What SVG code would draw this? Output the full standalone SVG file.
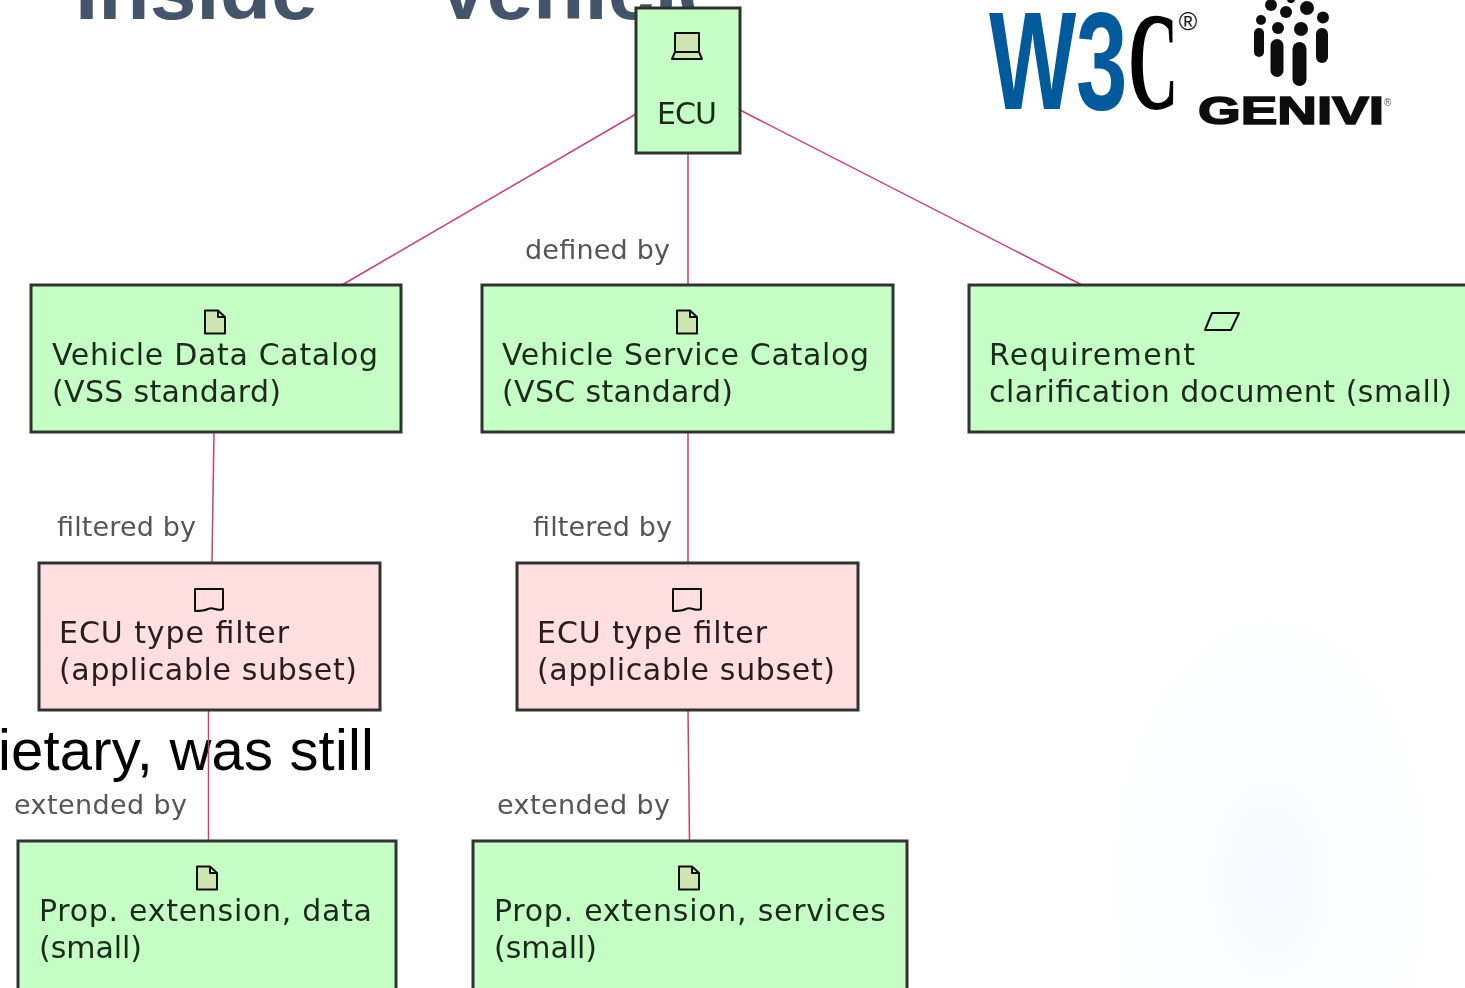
<svg xmlns="http://www.w3.org/2000/svg" width="1465" height="988" viewBox="0 0 1465 988">
<style>
.box{stroke:#333;stroke-width:3}
.g{fill:#c6ffc6}
.p{fill:#ffdfdf}
.t{font-family:"DejaVu Sans",sans-serif;font-size:30px;fill:#1c2a1c}
.tp{fill:#2a1c1c}
.l{font-family:"DejaVu Sans",sans-serif;font-size:27px;fill:#555}
.c{stroke:#cc3f70;stroke-width:1.5;fill:none}
.i{stroke:#111;stroke-width:2;stroke-linejoin:round}
.ig{fill:#cfe5b4}
.in{fill:none}
</style>
<defs>
<filter id="b2" x="-5%" y="-5%" width="110%" height="110%"><feGaussianBlur stdDeviation="0.6"/></filter>
<radialGradient id="bg"><stop offset="0" stop-color="#e9f0fb" stop-opacity="0.45"/><stop offset="1" stop-color="#fff" stop-opacity="0"/></radialGradient>
<path id="doc" d="M-10 -11.500H3L10 -5V11.500H-10Z M3 -11.500V-5H10"/>
<path id="flt" d="M-14 -11H14V9C8 12 4 6 -1 9C-5 11 -9 11 -14 11Z"/>
</defs>
<rect width="1465" height="988" fill="#fff"/>
<ellipse cx="1270" cy="880" rx="230" ry="380" fill="url(#bg)"/>
<text x="75" y="19" font-family="'Liberation Sans',sans-serif" font-weight="700" font-size="84" fill="#44546a">Inside</text>
<text x="435" y="19" font-family="'Liberation Sans',sans-serif" font-weight="700" font-size="84" fill="#44546a">Vehicle</text>
<text x="-2" y="770" font-family="'Liberation Sans',sans-serif" font-size="58" fill="#000" textLength="376">ietary, was still</text>
<g id="logo-w3c">
<text transform="translate(989 109) scale(0.66 1)" font-family="'Liberation Sans',sans-serif" font-weight="700" font-size="140" fill="#005a9c">W</text>
<text transform="translate(1076 109) scale(0.66 1)" font-family="'Liberation Sans',sans-serif" font-weight="700" font-size="140" fill="#005a9c">3</text>
<text transform="translate(1128 109) scale(0.5 1)" font-family="'Liberation Serif',serif" font-weight="700" font-size="140" fill="#000">C</text>
<text x="1188" y="30" text-anchor="middle" font-family="'Liberation Sans',sans-serif" font-size="25" fill="#111">®</text>
</g>
<g id="logo-genivi" filter="url(#b2)">
<g fill="#111">
<circle cx="1271" cy="5" r="6"/><circle cx="1286" cy="12" r="6"/><circle cx="1307" cy="8" r="7"/><circle cx="1291" cy="-1" r="4"/><circle cx="1261" cy="20" r="5"/><circle cx="1323" cy="17.500" r="6"/><circle cx="1278" cy="28" r="6"/><circle cx="1301" cy="29" r="7"/>
<rect x="1254" y="28" width="10" height="29" rx="5"/><rect x="1270.500" y="39" width="13" height="38" rx="6.500"/><rect x="1292.500" y="42" width="14" height="44" rx="7"/><rect x="1316" y="28" width="12" height="35" rx="6"/>
</g>
<text x="1198" y="124" font-family="'Liberation Sans',sans-serif" font-weight="700" font-size="38" fill="#111" stroke="#111" stroke-width="1.500" textLength="186" lengthAdjust="spacingAndGlyphs">GENIVI</text>
<text x="1384" y="106" font-family="'Liberation Sans',sans-serif" font-size="10" fill="#555">®</text>
</g>
<g id="connectors" filter="url(#b2)">
<path class="c" d="M636 114L342 285"/>
<path class="c" d="M688 153V285"/>
<path class="c" d="M740 110L1082 285"/>
<path class="c" d="M214 432L212 563"/>
<path class="c" d="M688 432V563"/>
<path class="c" d="M208.500 710V841"/>
<path class="c" d="M688 710L689.500 841"/>
</g>
<g id="edge-labels" filter="url(#b2)">
<text class="l" x="525" y="259" textLength="145">defined by</text>
<text class="l" x="57" y="536" textLength="139">filtered by</text>
<text class="l" x="533" y="536" textLength="139">filtered by</text>
<text class="l" x="14" y="814" textLength="173">extended by</text>
<text class="l" x="497" y="814" textLength="173">extended by</text>
</g>
<g id="ecu" filter="url(#b2)">
<rect class="box g" x="636" y="8" width="104" height="145"/>
<path class="i ig" d="M675 33H699V52H675Z M675 52L672 59H702L699 52"/>
<text class="t" x="657" y="124" textLength="60">ECU</text>
</g>
<g id="vehicle-data-catalog" filter="url(#b2)">
<rect class="box g" x="31" y="285" width="370" height="147"/>
<use href="#doc" class="i ig" x="215" y="322"/>
<text class="t" x="52" y="365" textLength="326">Vehicle Data Catalog</text>
<text class="t" x="52" y="402" textLength="229">(VSS standard)</text>
</g>
<g id="vehicle-service-catalog" filter="url(#b2)">
<rect class="box g" x="482" y="285" width="411" height="147"/>
<use href="#doc" class="i ig" x="687" y="322"/>
<text class="t" x="502" y="365" textLength="367">Vehicle Service Catalog</text>
<text class="t" x="502" y="402" textLength="231">(VSC standard)</text>
</g>
<g id="requirement" filter="url(#b2)">
<rect class="box g" x="969" y="285" width="510" height="147"/>
<path class="i in" d="M1212 313H1239L1231 330H1205Z"/>
<text class="t" x="989" y="365" textLength="206">Requirement</text>
<text class="t" x="989" y="402" textLength="463">clarification document (small)</text>
</g>
<g id="ecu-filter-1" filter="url(#b2)">
<rect class="box p" x="39" y="563" width="341" height="147"/>
<use href="#flt" class="i in" x="209" y="600"/>
<text class="t tp" x="59" y="643" textLength="230">ECU type filter</text>
<text class="t tp" x="59" y="680" textLength="298">(applicable subset)</text>
</g>
<g id="ecu-filter-2" filter="url(#b2)">
<rect class="box p" x="517" y="563" width="341" height="147"/>
<use href="#flt" class="i in" x="687" y="600"/>
<text class="t tp" x="537" y="643" textLength="230">ECU type filter</text>
<text class="t tp" x="537" y="680" textLength="298">(applicable subset)</text>
</g>
<g id="prop-ext-data" filter="url(#b2)">
<rect class="box g" x="18" y="841" width="378" height="160"/>
<use href="#doc" class="i ig" x="207" y="878"/>
<text class="t" x="39" y="921" textLength="333">Prop. extension, data</text>
<text class="t" x="39" y="958" textLength="103">(small)</text>
</g>
<g id="prop-ext-services" filter="url(#b2)">
<rect class="box g" x="473" y="841" width="434" height="160"/>
<use href="#doc" class="i ig" x="689" y="878"/>
<text class="t" x="494" y="921" textLength="392">Prop. extension, services</text>
<text class="t" x="494" y="958" textLength="103">(small)</text>
</g>
</svg>
